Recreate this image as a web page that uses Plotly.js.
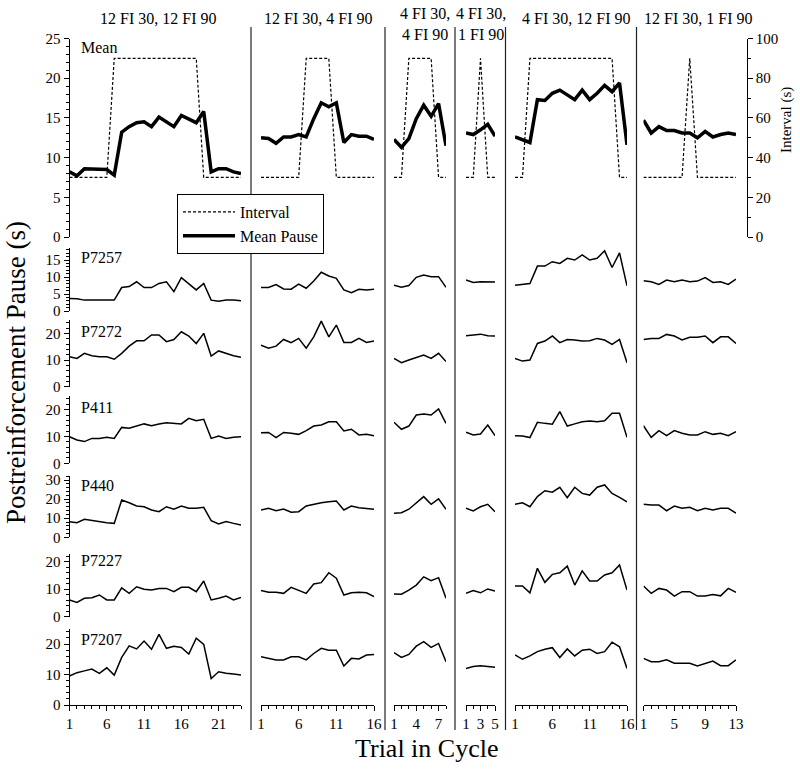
<!DOCTYPE html>
<html><head><meta charset="utf-8">
<script src="https://cdn.plot.ly/plotly-3.0.1.min.js"></script>
<style>html,body{margin:0;padding:0;background:#fff}#chart{width:800px;height:771px}</style>
</head><body><div id="chart"></div>
<script>
// ---------- data ----------
const conditionTitles = ["12 FI 30, 12 FI 90", "12 FI 30, 4 FI 90", "4 FI 30,<br>4 FI 90", "4 FI 30,<br>1 FI 90", "4 FI 30, 12 FI 90", "12 FI 30, 1 FI 90"];
const trialCounts = [24, 16, 8, 5, 16, 13];
const xTickVals = [[1,6,11,16,21],[1,6,11,16],[1,4,7],[1,3,5],[1,6,11,16],[1,5,9,13]];
const rowLabels = ["Mean", "P7257", "P7272", "P411", "P440", "P7227", "P7207"];
const intervalTicks = [0, 20, 40, 60, 80, 100];

const intervalSec = [
  [30,30,30,30,30,30,90,90,90,90,90,90,90,90,90,90,90,90,30,30,30,30,30,30],
  [30,30,30,30,30,30,90,90,90,90,30,30,30,30,30,30],
  [30,30,90,90,90,90,30,30],
  [30,30,90,30,30],
  [30,30,90,90,90,90,90,90,90,90,90,90,90,90,30,30],
  [30,30,30,30,30,30,90,30,30,30,30,30,30]
];
const meanPause = [
  [8.2,7.7,8.6,8.6,8.6,8.5,7.8,13.2,13.9,14.4,14.5,13.9,15.1,14.5,13.9,15.3,14.8,14.4,15.8,8.2,8.6,8.6,8.2,8.0],
  [12.5,12.4,11.8,12.6,12.6,12.9,12.6,14.9,16.9,16.4,16.9,11.9,12.9,12.7,12.7,12.3],
  [12.3,11.3,12.4,14.9,16.6,15.2,16.8,11.5],
  [13.1,12.9,13.5,14.2,12.7],
  [12.6,12.3,11.9,17.3,17.2,18.1,18.5,17.9,17.3,18.5,17.3,18.1,19.1,18.3,19.4,11.6],
  [14.7,13.1,13.9,13.4,13.4,13.1,13.1,12.5,13.3,12.6,12.9,13.1,12.9]
];
const p7257 = [
  [3.7,3.6,3.2,3.2,3.2,3.2,3.2,6.9,7.2,8.6,6.9,6.9,8.1,8.6,5.7,9.8,8.1,6.2,8.1,3.2,2.9,3.2,3.2,3.0],
  [6.9,6.9,7.8,6.5,6.4,7.9,6.7,8.8,11.4,10.3,9.6,6.2,5.4,6.4,6.2,6.4],
  [7.6,7.0,7.5,9.9,10.6,10.1,10.1,7.0],
  [9.1,8.4,8.6,8.6,8.5],
  [7.6,7.8,8.1,13.2,13.2,14.5,14.0,15.5,15.0,16.5,15.0,15.5,17.7,12.8,17.1,7.4],
  [8.9,8.6,7.8,9.1,8.6,9.1,8.6,8.8,9.8,8.4,8.6,7.8,9.4]
];
const p7272 = [
  [11.2,10.6,12.5,11.6,11.2,11.2,10.3,12.5,15.2,17.2,17.2,19.4,19.4,16.9,17.7,20.6,19.0,16.2,20.0,11.5,13.4,12.5,11.6,11.0],
  [15.6,14.4,15.2,17.7,16.5,18.1,14.4,18.7,24.6,18.7,23.1,16.6,16.6,18.1,16.6,17.1],
  [10.6,9.0,10.0,11.0,11.9,10.6,12.5,9.4],
  [19.1,19.3,19.7,19.1,19.0],
  [10.6,9.6,10.0,16.2,17.1,19.0,16.5,17.7,17.5,17.1,17.2,18.1,17.5,15.9,17.7,9.0],
  [17.7,18.1,18.1,19.6,19.0,17.5,18.5,18.5,19.0,16.5,18.7,18.7,16.2]
];
const p411 = [
  [9.9,8.7,8.1,9.3,9.3,9.7,9.3,13.4,13.1,13.9,14.7,14.0,14.7,15.1,14.9,14.7,16.8,15.9,16.4,9.3,10.2,9.3,9.7,9.9],
  [11.4,11.5,9.6,11.5,11.2,10.8,12.2,13.9,14.3,15.5,15.5,12.1,12.7,10.6,10.8,10.3],
  [15.3,12.7,13.9,18.0,18.4,18.0,20.3,14.9],
  [11.6,10.6,10.9,14.3,10.3],
  [10.3,10.2,9.6,15.3,14.9,14.6,19.3,13.9,14.7,15.5,15.8,15.5,15.9,18.7,18.7,9.7],
  [14.0,9.7,12.2,10.3,12.2,11.2,10.6,10.6,11.8,10.8,11.2,10.3,11.8]
];
const p440 = [
  [8.2,7.6,9.4,8.7,8.2,7.6,7.3,19.5,18.1,16.4,16.0,14.3,13.4,16.0,14.7,16.4,15.2,15.2,15.7,8.7,7.0,8.2,7.3,6.4],
  [14.3,15.2,13.9,14.8,13.1,13.4,16.4,17.3,18.1,18.6,19.0,14.3,16.4,15.5,15.2,14.7],
  [12.6,12.9,14.7,18.1,21.3,17.3,20.1,14.7],
  [15.2,13.8,16.0,17.3,13.4],
  [17.3,18.1,16.0,21.3,24.4,23.6,26.2,20.7,26.2,23.0,22.1,26.2,27.4,23.0,20.9,18.6],
  [17.3,16.9,16.9,13.9,16.4,15.2,15.7,13.9,15.2,14.3,15.2,15.2,12.6]
];
const p7227 = [
  [6.1,5.2,6.7,6.9,7.9,6.1,6.1,10.5,8.5,10.9,10.0,9.7,10.3,10.3,9.1,10.7,10.7,9.1,13.0,6.1,6.7,7.5,6.1,7.0],
  [9.5,8.9,8.9,8.5,10.7,9.7,8.5,11.9,12.4,16.0,14.0,7.9,8.7,8.9,8.7,7.3],
  [8.3,8.2,9.7,11.5,14.5,13.1,14.2,6.7],
  [8.5,9.5,8.7,10.1,9.3],
  [11.2,11.2,8.7,17.6,12.5,15.4,16.0,18.4,11.5,16.7,13.0,13.0,15.2,16.0,18.8,9.7],
  [11.2,8.5,10.3,9.7,7.5,9.1,9.1,7.5,7.5,8.1,7.6,10.3,8.9]
];
const p7207 = [
  [9.5,10.6,11.2,11.8,10.4,12.2,9.8,15.6,19.4,18.4,21.0,18.3,23.2,18.6,19.3,18.9,16.7,21.9,19.9,8.7,10.9,10.4,10.2,9.8],
  [15.8,15.3,14.8,14.8,15.8,15.8,14.8,16.9,18.6,18.0,18.0,12.8,15.3,15.1,16.4,16.6],
  [17.2,15.6,16.6,19.3,20.8,18.9,20.2,14.2],
  [12.0,12.6,12.9,12.6,12.4],
  [16.4,15.0,16.1,17.5,18.3,18.8,15.6,18.4,16.1,18.0,18.3,16.9,17.5,20.6,19.1,12.0],
  [15.3,14.2,14.2,14.8,13.7,13.7,13.7,12.8,13.7,14.4,12.9,12.9,14.8]
];
const rowData = [meanPause, p7257, p7272, p411, p440, p7227, p7207];

// ---------- layout geometry ----------
const W = 800, H = 771;
const fx = p => p / W;
const fy = p => 1 - p / H;
const colPx = [[69.5,241],[261,374],[394,446],[466,495],[515,627],[643.5,736]];
const rowPx = [[38.5,237],[248.1,311],[320,386.7],[396.3,463.3],[476.2,537.3],[553.5,616.7],[628.8,705]];
const rowRanges = [[0,25],[0,18.5],[0,25],[0,25],[0,32],[0,23],[0,25]];
const rowTickVals = [[0,5,10,15,20,25],[0,5,10,15],[0,10,20],[0,10,20],[0,10,20,30],[0,10,20],[0,10,20]];
const rowMinor = [1,1,2,2,2,2,2];
const FONT = "Liberation Serif, 'Times New Roman', serif";

const layout = {
  width: W, height: H,
  margin: {l:0, r:0, t:0, b:0},
  paper_bgcolor: '#fff', plot_bgcolor: 'rgba(0,0,0,0)',
  font: {family: FONT, size: 15, color: '#000'},
  showlegend: true,
  legend: {x: fx(177), y: fy(194), xanchor: 'left', yanchor: 'top',
           bgcolor: '#fff', bordercolor: '#000', borderwidth: 1,
           font: {family: FONT, size: 16, color: '#000'},
           itemwidth: 52, traceorder: 'normal', tracegroupgap: 0},
  annotations: [], shapes: []
};

const axName = (base, i) => base + (i === 0 ? '' : (i + 1));
const refName = (base, i) => base + (i === 0 ? '' : (i + 1));

for (let c = 0; c < 6; c++) {
  layout[axName('xaxis', c)] = {
    domain: [fx(colPx[c][0]), fx(colPx[c][1])],
    range: [1, trialCounts[c]],
    anchor: 'y7',
    tickmode: 'array', tickvals: xTickVals[c], ticktext: xTickVals[c].map(String),
    ticks: 'outside', ticklen: 5, tickwidth: 1, tickcolor: '#000',
    minor: {tickmode: 'linear', tick0: 1, dtick: 1, ticks: 'outside', ticklen: 3, tickcolor: '#000', showgrid: false},
    showline: true, linecolor: '#000', linewidth: 1,
    showgrid: false, zeroline: false,
    tickfont: {family: FONT, size: 15, color: '#000'},
    fixedrange: true
  };
}
for (let r = 0; r < 7; r++) {
  layout[axName('yaxis', r)] = {
    domain: [fy(rowPx[r][1]), fy(rowPx[r][0])],
    range: rowRanges[r],
    anchor: 'x',
    tickmode: 'array', tickvals: rowTickVals[r], ticktext: rowTickVals[r].map(String),
    ticks: 'outside', ticklen: 5, tickwidth: 1, tickcolor: '#000',
    minor: {tickmode: 'linear', tick0: 0, dtick: rowMinor[r], ticks: 'outside', ticklen: 3, tickcolor: '#000', showgrid: false},
    showline: true, linecolor: '#000', linewidth: 1,
    showgrid: false, zeroline: false,
    tickfont: {family: FONT, size: 15, color: '#000'},
    fixedrange: true
  };
}
layout.yaxis8 = {
  overlaying: 'y', side: 'right', anchor: 'free', position: fx(746.7),
  range: [0, 100],
  tickmode: 'array', tickvals: intervalTicks, ticktext: intervalTicks.map(String),
  ticks: 'outside', ticklen: 5, tickwidth: 1, tickcolor: '#000',
  minor: {tickmode: 'linear', tick0: 0, dtick: 10, ticks: 'outside', ticklen: 3, tickcolor: '#000', showgrid: false},
  showline: true, linecolor: '#000', linewidth: 1,
  showgrid: false, zeroline: false,
  tickfont: {family: FONT, size: 15, color: '#000'},
  fixedrange: true
};

// ---------- traces ----------
const traces = [];
for (let c = 0; c < 6; c++) {
  const xs = intervalSec[c].map((_, i) => i + 1);
  traces.push({
    type: 'scatter', mode: 'lines', name: 'Interval',
    x: xs, y: intervalSec[c],
    xaxis: refName('x', c), yaxis: 'y8',
    line: {color: '#000', width: 1.2, dash: '3px,2px'},
    showlegend: c === 0, legendrank: 1, hoverinfo: 'skip'
  });
}
for (let r = 0; r < 7; r++) {
  for (let c = 0; c < 6; c++) {
    const vals = rowData[r][c];
    const xs = vals.map((_, i) => i + 1);
    traces.push({
      type: 'scatter', mode: 'lines',
      name: r === 0 ? 'Mean Pause' : rowLabels[r],
      x: xs, y: vals,
      xaxis: refName('x', c), yaxis: refName('y', r),
      line: {color: '#000', width: r === 0 ? 3.5 : 1.5},
      showlegend: r === 0 && c === 0, legendrank: 2, hoverinfo: 'skip'
    });
  }
}

// ---------- decorations ----------
const sepX = [251, 385, 455, 505.5, 636.5];
sepX.forEach(x => layout.shapes.push({
  type: 'line', xref: 'paper', yref: 'paper',
  x0: fx(x), x1: fx(x), y0: fy(27), y1: fy(730),
  line: {color: '#222', width: 1.2}, layer: 'below'
}));

const titleX = [158, 317.5, 425, 481, 576, 697.5];
const titleY = [18, 18, 24, 24, 18, 18];
conditionTitles.forEach((t, i) => layout.annotations.push({
  text: t, xref: 'paper', yref: 'paper', x: fx(titleX[i]), y: fy(titleY[i]),
  xanchor: 'center', yanchor: 'middle', showarrow: false,
  font: {family: FONT, size: 16, color: '#000'}
}));

const labelY = [47, 258, 331, 407, 485, 560, 639];
rowLabels.forEach((t, i) => layout.annotations.push({
  text: t, xref: 'paper', yref: 'paper', x: fx(79), y: fy(labelY[i]),
  xanchor: 'left', yanchor: 'middle', showarrow: false,
  font: {family: FONT, size: 16, color: '#000'}
}));

layout.annotations.push({
  text: 'Postreinforcement Pause (s)', xref: 'paper', yref: 'paper',
  x: fx(16), y: fy(373), xanchor: 'center', yanchor: 'middle', textangle: -90,
  showarrow: false, font: {family: FONT, size: 27, color: '#000'}
});
layout.annotations.push({
  text: 'Trial in Cycle', xref: 'paper', yref: 'paper',
  x: fx(427), y: fy(748), xanchor: 'center', yanchor: 'middle',
  showarrow: false, font: {family: FONT, size: 26, color: '#000'}
});
layout.annotations.push({
  text: 'Interval (s)', xref: 'paper', yref: 'paper',
  x: fx(786), y: fy(120), xanchor: 'center', yanchor: 'middle', textangle: -90,
  showarrow: false, font: {family: FONT, size: 15, color: '#000'}
});

Plotly.newPlot('chart', traces, layout, {staticPlot: true, displayModeBar: false});
</script>
</body></html>
